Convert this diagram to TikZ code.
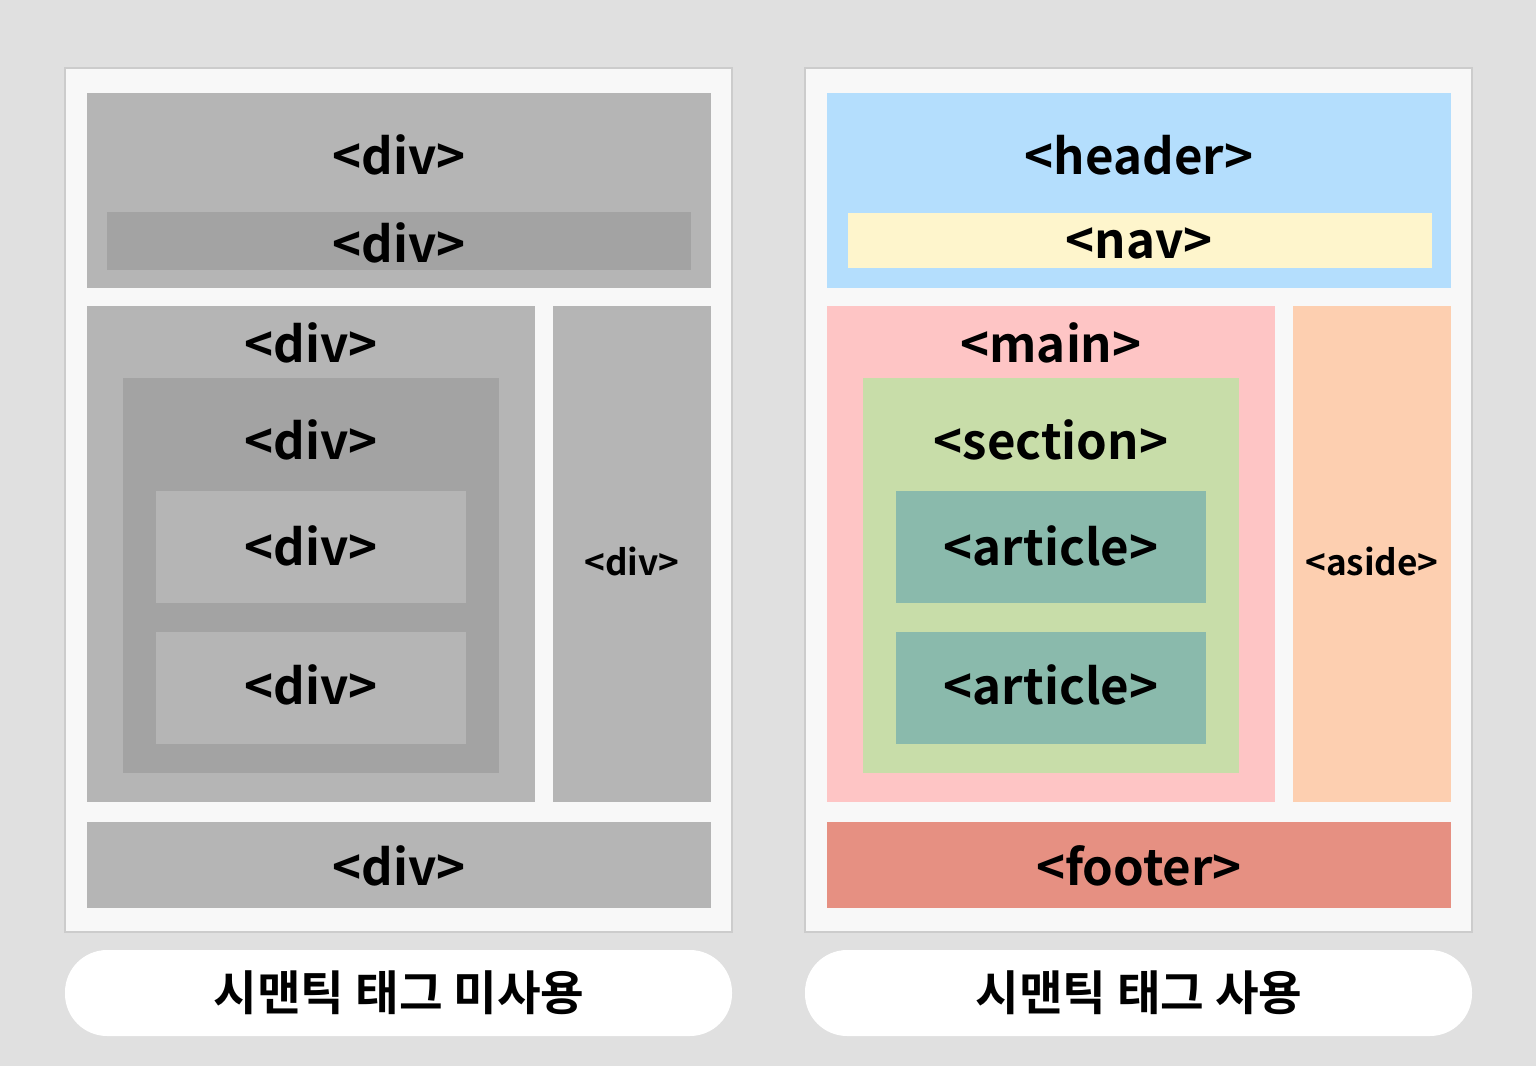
\documentclass[tikz,border=0pt]{standalone}
\usepackage{fontspec}
\setmainfont{Noto Sans CJK KR}[BoldFont={* Bold}]
\definecolor{bg}{HTML}{E0E0E0}
\definecolor{panel}{HTML}{F8F8F8}
\definecolor{panelline}{HTML}{CCCCCC}
\definecolor{gA}{HTML}{B5B5B5}
\definecolor{gB}{HTML}{A3A3A3}
\definecolor{cheader}{HTML}{B4DEFD}
\definecolor{cnav}{HTML}{FEF5CC}
\definecolor{cmain}{HTML}{FEC5C5}
\definecolor{csection}{HTML}{C8DDA9}
\definecolor{carticle}{HTML}{8ABAAC}
\definecolor{caside}{HTML}{FDCFB0}
\definecolor{cfooter}{HTML}{E69082}
\tikzset{
  tagtext/.style={font=\bfseries\fontsize{28}{30}\selectfont, text=black},
  smalltag/.style={font=\bfseries\fontsize{20}{22}\selectfont, text=black},
  labeltext/.style={font=\bfseries\fontsize{27}{29}\selectfont, text=black},
  panelbox/.style={fill=panel, draw=panelline, line width=1pt},
  pill/.style={fill=white, rounded corners=24pt},
}
\begin{document}
\begin{tikzpicture}[x=0.02cm, y=-0.02cm]
\fill[bg] (0,0) rectangle (1536,1066);
\useasboundingbox (0,0) rectangle (1536,1066);
% panels
\draw[panelbox] (65,68) rectangle (732,932);
\draw[panelbox] (805,68) rectangle (1472,932);
% left
\fill[gA] (87,93) rectangle (711,288);
\fill[gB] (107,212) rectangle (691,270);
\fill[gA] (87,306) rectangle (535,802);
\fill[gB] (123,378) rectangle (499,773);
\fill[gA] (156,491) rectangle (466,603);
\fill[gA] (156,632) rectangle (466,744);
\fill[gA] (553,306) rectangle (711,802);
\fill[gA] (87,822) rectangle (711,908);
\node[tagtext] (l1) at (399,155) {<div>};
\node[tagtext] (l2) at (399,243) {<div>};
\node[tagtext] (l3) at (311,343) {<div>};
\node[tagtext] (l4) at (311,440) {<div>};
\node[tagtext] (l5) at (311,546) {<div>};
\node[tagtext] (l6) at (311,685) {<div>};
\node[smalltag] (l7) at (632,561) {<div>};
\node[tagtext] (l8) at (399,866) {<div>};
% right
\fill[cheader] (827,93) rectangle (1451,288);
\fill[cnav] (848,213) rectangle (1432,268);
\fill[cmain] (827,306) rectangle (1275,802);
\fill[csection] (863,378) rectangle (1239,773);
\fill[carticle] (896,491) rectangle (1206,603);
\fill[carticle] (896,632) rectangle (1206,744);
\fill[caside] (1293,306) rectangle (1451,802);
\fill[cfooter] (827,822) rectangle (1451,908);
\node[tagtext] (r1) at (1139,155) {<header>};
\node[tagtext] (r2) at (1139,243) {<nav>};
\node[tagtext] (r3) at (1051,343) {<main>};
\node[tagtext] (r4) at (1051,440) {<section>};
\node[tagtext] (r5) at (1051,546) {<article>};
\node[tagtext] (r6) at (1051,685) {<article>};
\node[smalltag] (r7) at (1372,561) {<aside>};
\node[tagtext] (r8) at (1139,866) {<footer>};
% labels
\fill[pill] (65,950) rectangle (732,1036);
\fill[pill] (805,950) rectangle (1472,1036);
\node[labeltext] (lb1) at (399,993) {시맨틱 태그 미사용};
\node[labeltext] (lb2) at (1139,993) {시맨틱 태그 사용};
\end{tikzpicture}
\end{document}
